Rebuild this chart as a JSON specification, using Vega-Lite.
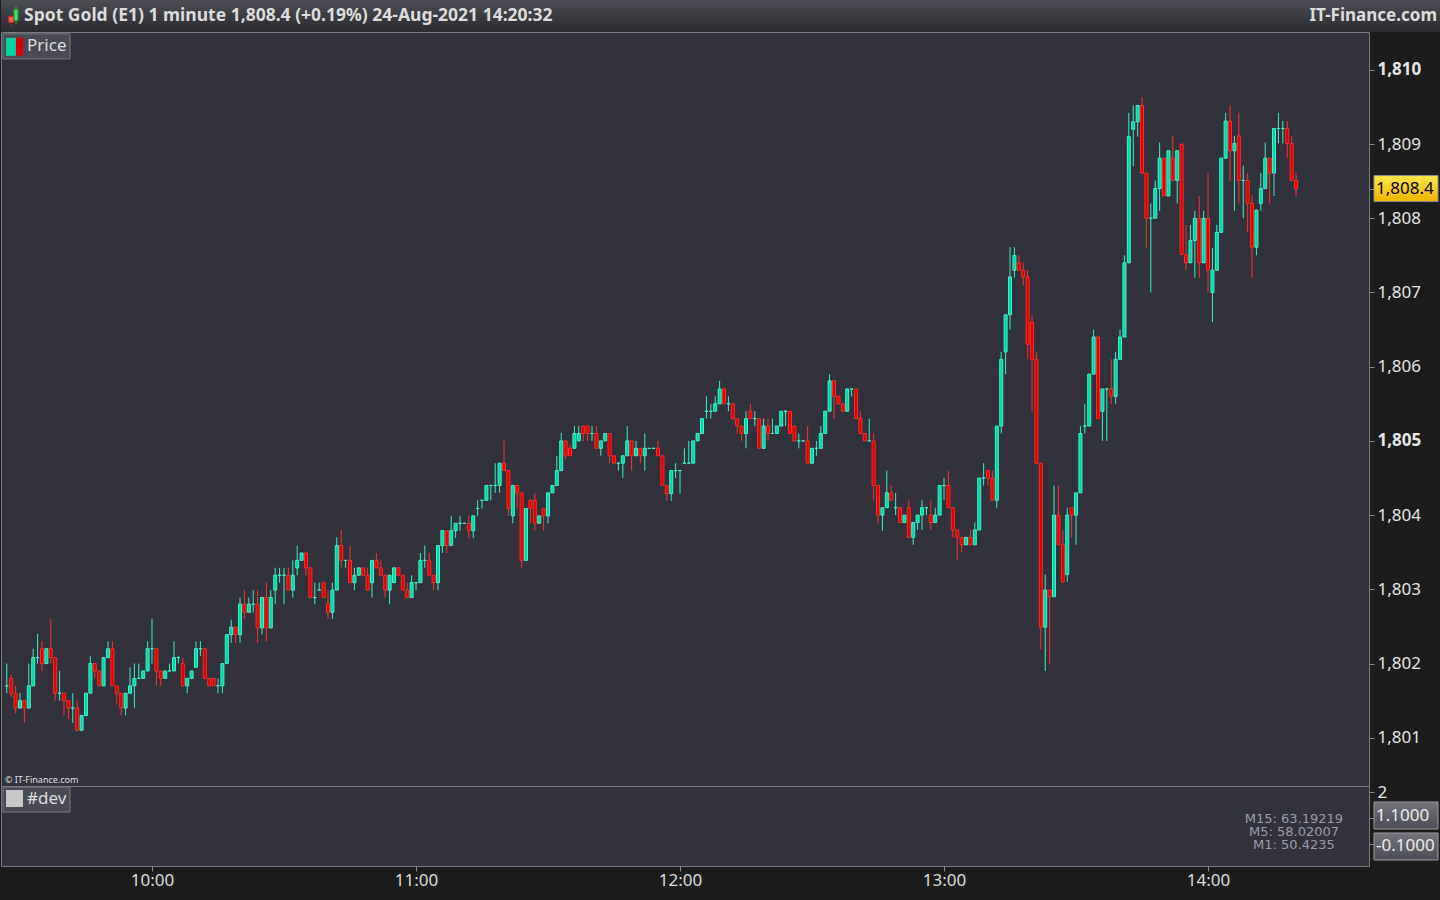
{
"$schema":"https://vega.github.io/schema/vega-lite/v6.json",
"background":"#1c1c1c",
"padding":0,
"spacing":0,
"bounds":"flush",
"config":{"view":{"stroke":null},"concat":{"spacing":0}},
"datasets":{
"candles":[
{"t":"2021-08-24T09:27","o":1801.7,"h":1802.0,"l":1801.6,"c":1801.7},
{"t":"2021-08-24T09:28","o":1801.8,"h":1801.85,"l":1801.55,"c":1801.6},
{"t":"2021-08-24T09:29","o":1801.6,"h":1801.7,"l":1801.33,"c":1801.4},
{"t":"2021-08-24T09:30","o":1801.4,"h":1801.6,"l":1801.4,"c":1801.5},
{"t":"2021-08-24T09:31","o":1801.5,"h":1801.5,"l":1801.2,"c":1801.4},
{"t":"2021-08-24T09:32","o":1801.4,"h":1802.0,"l":1801.4,"c":1801.7},
{"t":"2021-08-24T09:33","o":1801.7,"h":1802.2,"l":1801.7,"c":1802.08},
{"t":"2021-08-24T09:34","o":1802.08,"h":1802.4,"l":1802.0,"c":1802.08},
{"t":"2021-08-24T09:35","o":1802.2,"h":1802.3,"l":1801.9,"c":1802.0},
{"t":"2021-08-24T09:36","o":1802.0,"h":1802.2,"l":1802.0,"c":1802.2},
{"t":"2021-08-24T09:37","o":1802.2,"h":1802.6,"l":1802.0,"c":1802.08},
{"t":"2021-08-24T09:38","o":1802.08,"h":1802.08,"l":1801.5,"c":1801.6},
{"t":"2021-08-24T09:39","o":1801.6,"h":1801.9,"l":1801.5,"c":1801.6},
{"t":"2021-08-24T09:40","o":1801.6,"h":1801.6,"l":1801.3,"c":1801.5},
{"t":"2021-08-24T09:41","o":1801.5,"h":1801.5,"l":1801.25,"c":1801.4},
{"t":"2021-08-24T09:42","o":1801.4,"h":1801.6,"l":1801.2,"c":1801.4},
{"t":"2021-08-24T09:43","o":1801.4,"h":1801.5,"l":1801.1,"c":1801.1},
{"t":"2021-08-24T09:44","o":1801.1,"h":1801.3,"l":1801.1,"c":1801.3},
{"t":"2021-08-24T09:45","o":1801.3,"h":1801.6,"l":1801.3,"c":1801.6},
{"t":"2021-08-24T09:46","o":1801.6,"h":1802.1,"l":1801.6,"c":1802.0},
{"t":"2021-08-24T09:47","o":1802.0,"h":1802.0,"l":1801.8,"c":1801.9},
{"t":"2021-08-24T09:48","o":1801.9,"h":1801.9,"l":1801.7,"c":1801.7},
{"t":"2021-08-24T09:49","o":1801.7,"h":1802.08,"l":1801.7,"c":1802.08},
{"t":"2021-08-24T09:50","o":1802.08,"h":1802.3,"l":1802.08,"c":1802.2},
{"t":"2021-08-24T09:51","o":1802.2,"h":1802.3,"l":1801.7,"c":1801.7},
{"t":"2021-08-24T09:52","o":1801.7,"h":1801.7,"l":1801.45,"c":1801.6},
{"t":"2021-08-24T09:53","o":1801.6,"h":1801.6,"l":1801.3,"c":1801.4},
{"t":"2021-08-24T09:54","o":1801.4,"h":1801.6,"l":1801.3,"c":1801.6},
{"t":"2021-08-24T09:55","o":1801.6,"h":1801.95,"l":1801.6,"c":1801.7},
{"t":"2021-08-24T09:56","o":1801.7,"h":1802.0,"l":1801.4,"c":1801.8},
{"t":"2021-08-24T09:57","o":1801.8,"h":1802.0,"l":1801.8,"c":1801.8},
{"t":"2021-08-24T09:58","o":1801.8,"h":1801.9,"l":1801.8,"c":1801.9},
{"t":"2021-08-24T09:59","o":1801.9,"h":1802.3,"l":1801.9,"c":1802.2},
{"t":"2021-08-24T10:00","o":1802.2,"h":1802.6,"l":1802.0,"c":1802.2},
{"t":"2021-08-24T10:01","o":1802.2,"h":1802.2,"l":1801.7,"c":1801.9},
{"t":"2021-08-24T10:02","o":1801.9,"h":1801.9,"l":1801.7,"c":1801.8},
{"t":"2021-08-24T10:03","o":1801.8,"h":1801.9,"l":1801.8,"c":1801.9},
{"t":"2021-08-24T10:04","o":1801.9,"h":1802.0,"l":1801.9,"c":1801.9},
{"t":"2021-08-24T10:05","o":1801.9,"h":1802.3,"l":1801.9,"c":1802.08},
{"t":"2021-08-24T10:06","o":1802.08,"h":1802.1,"l":1802.0,"c":1802.08},
{"t":"2021-08-24T10:07","o":1802.0,"h":1802.08,"l":1801.7,"c":1801.7},
{"t":"2021-08-24T10:08","o":1801.7,"h":1801.8,"l":1801.6,"c":1801.8},
{"t":"2021-08-24T10:09","o":1801.8,"h":1801.9,"l":1801.8,"c":1801.9},
{"t":"2021-08-24T10:10","o":1801.95,"h":1802.3,"l":1801.95,"c":1802.2},
{"t":"2021-08-24T10:11","o":1802.2,"h":1802.3,"l":1802.1,"c":1802.2},
{"t":"2021-08-24T10:12","o":1802.2,"h":1802.2,"l":1801.8,"c":1801.8},
{"t":"2021-08-24T10:13","o":1801.8,"h":1801.8,"l":1801.7,"c":1801.7},
{"t":"2021-08-24T10:14","o":1801.8,"h":1801.8,"l":1801.7,"c":1801.7},
{"t":"2021-08-24T10:15","o":1801.7,"h":1801.8,"l":1801.6,"c":1801.7},
{"t":"2021-08-24T10:16","o":1801.7,"h":1802.0,"l":1801.6,"c":1802.0},
{"t":"2021-08-24T10:17","o":1802.0,"h":1802.4,"l":1802.0,"c":1802.39},
{"t":"2021-08-24T10:18","o":1802.39,"h":1802.59,"l":1802.28,"c":1802.49},
{"t":"2021-08-24T10:19","o":1802.49,"h":1802.49,"l":1802.28,"c":1802.39},
{"t":"2021-08-24T10:20","o":1802.39,"h":1802.89,"l":1802.28,"c":1802.8},
{"t":"2021-08-24T10:21","o":1802.8,"h":1802.99,"l":1802.6,"c":1802.69},
{"t":"2021-08-24T10:22","o":1802.69,"h":1802.89,"l":1802.69,"c":1802.8},
{"t":"2021-08-24T10:23","o":1802.8,"h":1802.99,"l":1802.69,"c":1802.8},
{"t":"2021-08-24T10:24","o":1802.8,"h":1802.99,"l":1802.28,"c":1802.48},
{"t":"2021-08-24T10:25","o":1802.48,"h":1802.89,"l":1802.39,"c":1802.89},
{"t":"2021-08-24T10:26","o":1802.89,"h":1803.09,"l":1802.3,"c":1802.48},
{"t":"2021-08-24T10:27","o":1802.48,"h":1802.99,"l":1802.48,"c":1802.89},
{"t":"2021-08-24T10:28","o":1802.99,"h":1803.29,"l":1802.8,"c":1803.19},
{"t":"2021-08-24T10:29","o":1803.19,"h":1803.29,"l":1803.09,"c":1803.19},
{"t":"2021-08-24T10:30","o":1803.19,"h":1803.29,"l":1802.8,"c":1803.19},
{"t":"2021-08-24T10:31","o":1803.19,"h":1803.29,"l":1802.99,"c":1802.99},
{"t":"2021-08-24T10:32","o":1802.99,"h":1803.39,"l":1802.89,"c":1803.19},
{"t":"2021-08-24T10:33","o":1803.29,"h":1803.59,"l":1803.19,"c":1803.39},
{"t":"2021-08-24T10:34","o":1803.39,"h":1803.49,"l":1803.39,"c":1803.49},
{"t":"2021-08-24T10:35","o":1803.49,"h":1803.49,"l":1803.19,"c":1803.29},
{"t":"2021-08-24T10:36","o":1803.29,"h":1803.29,"l":1802.89,"c":1802.89},
{"t":"2021-08-24T10:37","o":1802.89,"h":1803.09,"l":1802.8,"c":1802.89},
{"t":"2021-08-24T10:38","o":1802.99,"h":1803.09,"l":1802.99,"c":1802.99},
{"t":"2021-08-24T10:39","o":1803.09,"h":1803.09,"l":1802.89,"c":1802.89},
{"t":"2021-08-24T10:40","o":1802.8,"h":1802.99,"l":1802.6,"c":1802.69},
{"t":"2021-08-24T10:41","o":1802.69,"h":1803.09,"l":1802.6,"c":1802.99},
{"t":"2021-08-24T10:42","o":1802.99,"h":1803.7,"l":1802.99,"c":1803.59},
{"t":"2021-08-24T10:43","o":1803.59,"h":1803.8,"l":1803.29,"c":1803.39},
{"t":"2021-08-24T10:44","o":1803.39,"h":1803.39,"l":1803.29,"c":1803.39},
{"t":"2021-08-24T10:45","o":1803.39,"h":1803.59,"l":1803.09,"c":1803.09},
{"t":"2021-08-24T10:46","o":1803.09,"h":1803.29,"l":1802.99,"c":1803.19},
{"t":"2021-08-24T10:47","o":1803.19,"h":1803.29,"l":1803.19,"c":1803.29},
{"t":"2021-08-24T10:48","o":1803.29,"h":1803.29,"l":1803.19,"c":1803.19},
{"t":"2021-08-24T10:49","o":1803.19,"h":1803.29,"l":1802.99,"c":1802.99},
{"t":"2021-08-24T10:50","o":1803.09,"h":1803.39,"l":1802.89,"c":1803.39},
{"t":"2021-08-24T10:51","o":1803.39,"h":1803.49,"l":1803.29,"c":1803.29},
{"t":"2021-08-24T10:52","o":1803.29,"h":1803.39,"l":1803.19,"c":1803.19},
{"t":"2021-08-24T10:53","o":1803.19,"h":1803.19,"l":1802.89,"c":1802.99},
{"t":"2021-08-24T10:54","o":1802.99,"h":1803.19,"l":1802.8,"c":1803.19},
{"t":"2021-08-24T10:55","o":1803.09,"h":1803.29,"l":1803.09,"c":1803.29},
{"t":"2021-08-24T10:56","o":1803.29,"h":1803.29,"l":1803.19,"c":1803.19},
{"t":"2021-08-24T10:57","o":1803.19,"h":1803.19,"l":1802.99,"c":1802.99},
{"t":"2021-08-24T10:58","o":1802.99,"h":1803.09,"l":1802.89,"c":1802.89},
{"t":"2021-08-24T10:59","o":1802.89,"h":1803.19,"l":1802.89,"c":1803.09},
{"t":"2021-08-24T11:00","o":1803.09,"h":1803.09,"l":1802.99,"c":1803.09},
{"t":"2021-08-24T11:01","o":1803.09,"h":1803.49,"l":1803.09,"c":1803.39},
{"t":"2021-08-24T11:02","o":1803.39,"h":1803.59,"l":1803.29,"c":1803.39},
{"t":"2021-08-24T11:03","o":1803.39,"h":1803.49,"l":1803.19,"c":1803.19},
{"t":"2021-08-24T11:04","o":1803.19,"h":1803.19,"l":1802.99,"c":1803.09},
{"t":"2021-08-24T11:05","o":1803.09,"h":1803.59,"l":1802.99,"c":1803.59},
{"t":"2021-08-24T11:06","o":1803.59,"h":1803.79,"l":1803.49,"c":1803.79},
{"t":"2021-08-24T11:07","o":1803.79,"h":1803.79,"l":1803.49,"c":1803.59},
{"t":"2021-08-24T11:08","o":1803.59,"h":1803.99,"l":1803.59,"c":1803.79},
{"t":"2021-08-24T11:09","o":1803.79,"h":1803.89,"l":1803.69,"c":1803.89},
{"t":"2021-08-24T11:10","o":1803.89,"h":1803.99,"l":1803.79,"c":1803.89},
{"t":"2021-08-24T11:11","o":1803.89,"h":1803.89,"l":1803.89,"c":1803.89},
{"t":"2021-08-24T11:12","o":1803.89,"h":1803.99,"l":1803.69,"c":1803.79},
{"t":"2021-08-24T11:13","o":1803.79,"h":1803.99,"l":1803.69,"c":1803.99},
{"t":"2021-08-24T11:14","o":1804.09,"h":1804.2,"l":1803.99,"c":1804.09},
{"t":"2021-08-24T11:15","o":1804.2,"h":1804.2,"l":1804.09,"c":1804.2},
{"t":"2021-08-24T11:16","o":1804.2,"h":1804.4,"l":1804.2,"c":1804.4},
{"t":"2021-08-24T11:17","o":1804.4,"h":1804.4,"l":1804.2,"c":1804.4},
{"t":"2021-08-24T11:18","o":1804.4,"h":1804.7,"l":1804.3,"c":1804.4},
{"t":"2021-08-24T11:19","o":1804.4,"h":1804.7,"l":1804.3,"c":1804.7},
{"t":"2021-08-24T11:20","o":1804.7,"h":1805.0,"l":1804.6,"c":1804.6},
{"t":"2021-08-24T11:21","o":1804.6,"h":1804.6,"l":1803.99,"c":1804.09},
{"t":"2021-08-24T11:22","o":1803.99,"h":1804.4,"l":1803.89,"c":1804.4},
{"t":"2021-08-24T11:23","o":1804.4,"h":1804.4,"l":1804.09,"c":1804.3},
{"t":"2021-08-24T11:24","o":1804.3,"h":1804.3,"l":1803.29,"c":1803.39},
{"t":"2021-08-24T11:25","o":1803.39,"h":1804.09,"l":1803.39,"c":1804.09},
{"t":"2021-08-24T11:26","o":1804.2,"h":1804.2,"l":1803.89,"c":1804.09},
{"t":"2021-08-24T11:27","o":1804.2,"h":1804.3,"l":1803.79,"c":1803.89},
{"t":"2021-08-24T11:28","o":1803.89,"h":1803.99,"l":1803.89,"c":1803.99},
{"t":"2021-08-24T11:29","o":1804.09,"h":1804.09,"l":1803.79,"c":1803.99},
{"t":"2021-08-24T11:30","o":1803.99,"h":1804.3,"l":1803.89,"c":1804.3},
{"t":"2021-08-24T11:31","o":1804.3,"h":1804.4,"l":1804.3,"c":1804.4},
{"t":"2021-08-24T11:32","o":1804.4,"h":1804.8,"l":1804.4,"c":1804.6},
{"t":"2021-08-24T11:33","o":1804.6,"h":1805.11,"l":1804.6,"c":1805.0},
{"t":"2021-08-24T11:34","o":1805.0,"h":1805.0,"l":1804.75,"c":1804.8},
{"t":"2021-08-24T11:35","o":1804.9,"h":1804.95,"l":1804.8,"c":1804.8},
{"t":"2021-08-24T11:36","o":1804.9,"h":1805.2,"l":1804.9,"c":1805.1},
{"t":"2021-08-24T11:37","o":1805.0,"h":1805.2,"l":1805.0,"c":1805.1},
{"t":"2021-08-24T11:38","o":1805.2,"h":1805.2,"l":1805.0,"c":1805.1},
{"t":"2021-08-24T11:39","o":1805.2,"h":1805.2,"l":1805.0,"c":1805.1},
{"t":"2021-08-24T11:40","o":1805.1,"h":1805.2,"l":1805.0,"c":1805.1},
{"t":"2021-08-24T11:41","o":1805.1,"h":1805.2,"l":1804.9,"c":1804.9},
{"t":"2021-08-24T11:42","o":1804.9,"h":1805.0,"l":1804.8,"c":1805.0},
{"t":"2021-08-24T11:43","o":1805.0,"h":1805.1,"l":1805.0,"c":1805.1},
{"t":"2021-08-24T11:44","o":1805.1,"h":1805.1,"l":1804.7,"c":1804.8},
{"t":"2021-08-24T11:45","o":1804.8,"h":1804.8,"l":1804.7,"c":1804.7},
{"t":"2021-08-24T11:46","o":1804.7,"h":1804.7,"l":1804.6,"c":1804.7},
{"t":"2021-08-24T11:47","o":1804.7,"h":1804.8,"l":1804.5,"c":1804.8},
{"t":"2021-08-24T11:48","o":1804.8,"h":1805.2,"l":1804.8,"c":1805.0},
{"t":"2021-08-24T11:49","o":1805.0,"h":1805.0,"l":1804.6,"c":1804.8},
{"t":"2021-08-24T11:50","o":1804.8,"h":1805.0,"l":1804.8,"c":1804.9},
{"t":"2021-08-24T11:51","o":1804.9,"h":1804.9,"l":1804.7,"c":1804.8},
{"t":"2021-08-24T11:52","o":1804.8,"h":1805.1,"l":1804.6,"c":1804.9},
{"t":"2021-08-24T11:53","o":1804.9,"h":1804.9,"l":1804.9,"c":1804.9},
{"t":"2021-08-24T11:54","o":1804.9,"h":1804.9,"l":1804.9,"c":1804.9},
{"t":"2021-08-24T11:55","o":1804.9,"h":1805.0,"l":1804.8,"c":1804.8},
{"t":"2021-08-24T11:56","o":1804.8,"h":1804.8,"l":1804.4,"c":1804.4},
{"t":"2021-08-24T11:57","o":1804.4,"h":1804.4,"l":1804.19,"c":1804.29},
{"t":"2021-08-24T11:58","o":1804.29,"h":1804.6,"l":1804.19,"c":1804.6},
{"t":"2021-08-24T11:59","o":1804.6,"h":1804.7,"l":1804.5,"c":1804.6},
{"t":"2021-08-24T12:00","o":1804.6,"h":1804.6,"l":1804.29,"c":1804.6},
{"t":"2021-08-24T12:01","o":1804.7,"h":1804.9,"l":1804.7,"c":1804.7},
{"t":"2021-08-24T12:02","o":1804.7,"h":1805.0,"l":1804.7,"c":1804.7},
{"t":"2021-08-24T12:03","o":1804.7,"h":1805.0,"l":1804.7,"c":1805.0},
{"t":"2021-08-24T12:04","o":1805.0,"h":1805.1,"l":1805.0,"c":1805.1},
{"t":"2021-08-24T12:05","o":1805.1,"h":1805.3,"l":1805.1,"c":1805.3},
{"t":"2021-08-24T12:06","o":1805.4,"h":1805.6,"l":1805.3,"c":1805.4},
{"t":"2021-08-24T12:07","o":1805.4,"h":1805.5,"l":1805.3,"c":1805.4},
{"t":"2021-08-24T12:08","o":1805.4,"h":1805.6,"l":1805.4,"c":1805.5},
{"t":"2021-08-24T12:09","o":1805.5,"h":1805.81,"l":1805.5,"c":1805.7},
{"t":"2021-08-24T12:10","o":1805.7,"h":1805.7,"l":1805.5,"c":1805.5},
{"t":"2021-08-24T12:11","o":1805.5,"h":1805.6,"l":1805.4,"c":1805.5},
{"t":"2021-08-24T12:12","o":1805.5,"h":1805.5,"l":1805.3,"c":1805.3},
{"t":"2021-08-24T12:13","o":1805.3,"h":1805.3,"l":1805.1,"c":1805.2},
{"t":"2021-08-24T12:14","o":1805.2,"h":1805.2,"l":1805.0,"c":1805.1},
{"t":"2021-08-24T12:15","o":1805.1,"h":1805.4,"l":1804.9,"c":1805.3},
{"t":"2021-08-24T12:16","o":1805.4,"h":1805.5,"l":1805.3,"c":1805.3},
{"t":"2021-08-24T12:17","o":1805.3,"h":1805.4,"l":1805.2,"c":1805.3},
{"t":"2021-08-24T12:18","o":1805.3,"h":1805.3,"l":1804.9,"c":1804.9},
{"t":"2021-08-24T12:19","o":1804.9,"h":1805.3,"l":1804.9,"c":1805.2},
{"t":"2021-08-24T12:20","o":1805.2,"h":1805.3,"l":1805.0,"c":1805.1},
{"t":"2021-08-24T12:21","o":1805.1,"h":1805.3,"l":1805.1,"c":1805.1},
{"t":"2021-08-24T12:22","o":1805.1,"h":1805.2,"l":1805.1,"c":1805.2},
{"t":"2021-08-24T12:23","o":1805.2,"h":1805.4,"l":1805.2,"c":1805.4},
{"t":"2021-08-24T12:24","o":1805.4,"h":1805.4,"l":1805.2,"c":1805.4},
{"t":"2021-08-24T12:25","o":1805.4,"h":1805.4,"l":1805.1,"c":1805.1},
{"t":"2021-08-24T12:26","o":1805.2,"h":1805.2,"l":1805.0,"c":1805.0},
{"t":"2021-08-24T12:27","o":1805.0,"h":1805.1,"l":1804.9,"c":1805.0},
{"t":"2021-08-24T12:28","o":1805.0,"h":1805.0,"l":1805.0,"c":1805.0},
{"t":"2021-08-24T12:29","o":1805.0,"h":1805.2,"l":1804.7,"c":1804.7},
{"t":"2021-08-24T12:30","o":1804.7,"h":1804.9,"l":1804.7,"c":1804.9},
{"t":"2021-08-24T12:31","o":1804.9,"h":1805.0,"l":1804.8,"c":1804.9},
{"t":"2021-08-24T12:32","o":1804.9,"h":1805.2,"l":1804.9,"c":1805.1},
{"t":"2021-08-24T12:33","o":1805.1,"h":1805.4,"l":1805.1,"c":1805.4},
{"t":"2021-08-24T12:34","o":1805.4,"h":1805.9,"l":1805.4,"c":1805.81},
{"t":"2021-08-24T12:35","o":1805.81,"h":1805.81,"l":1805.3,"c":1805.6},
{"t":"2021-08-24T12:36","o":1805.6,"h":1805.6,"l":1805.5,"c":1805.5},
{"t":"2021-08-24T12:37","o":1805.5,"h":1805.5,"l":1805.4,"c":1805.4},
{"t":"2021-08-24T12:38","o":1805.4,"h":1805.7,"l":1805.4,"c":1805.7},
{"t":"2021-08-24T12:39","o":1805.7,"h":1805.7,"l":1805.6,"c":1805.7},
{"t":"2021-08-24T12:40","o":1805.7,"h":1805.7,"l":1805.3,"c":1805.3},
{"t":"2021-08-24T12:41","o":1805.3,"h":1805.4,"l":1805.1,"c":1805.1},
{"t":"2021-08-24T12:42","o":1805.1,"h":1805.1,"l":1805.0,"c":1805.0},
{"t":"2021-08-24T12:43","o":1805.0,"h":1805.3,"l":1805.0,"c":1805.0},
{"t":"2021-08-24T12:44","o":1805.0,"h":1805.1,"l":1804.2,"c":1804.4},
{"t":"2021-08-24T12:45","o":1804.4,"h":1804.4,"l":1803.89,"c":1804.0},
{"t":"2021-08-24T12:46","o":1804.0,"h":1804.1,"l":1803.79,"c":1804.1},
{"t":"2021-08-24T12:47","o":1804.1,"h":1804.6,"l":1804.1,"c":1804.3},
{"t":"2021-08-24T12:48","o":1804.3,"h":1804.4,"l":1804.2,"c":1804.2},
{"t":"2021-08-24T12:49","o":1804.1,"h":1804.3,"l":1804.0,"c":1804.1},
{"t":"2021-08-24T12:50","o":1804.1,"h":1804.1,"l":1803.9,"c":1803.9},
{"t":"2021-08-24T12:51","o":1803.9,"h":1804.0,"l":1803.9,"c":1804.0},
{"t":"2021-08-24T12:52","o":1804.1,"h":1804.2,"l":1803.7,"c":1803.7},
{"t":"2021-08-24T12:53","o":1803.7,"h":1803.9,"l":1803.6,"c":1803.9},
{"t":"2021-08-24T12:54","o":1803.9,"h":1804.0,"l":1803.8,"c":1804.0},
{"t":"2021-08-24T12:55","o":1804.0,"h":1804.2,"l":1803.8,"c":1804.1},
{"t":"2021-08-24T12:56","o":1804.1,"h":1804.1,"l":1804.0,"c":1804.1},
{"t":"2021-08-24T12:57","o":1804.0,"h":1804.2,"l":1803.8,"c":1803.9},
{"t":"2021-08-24T12:58","o":1803.9,"h":1804.1,"l":1803.9,"c":1804.0},
{"t":"2021-08-24T12:59","o":1804.0,"h":1804.4,"l":1804.0,"c":1804.4},
{"t":"2021-08-24T13:00","o":1804.4,"h":1804.5,"l":1804.2,"c":1804.4},
{"t":"2021-08-24T13:01","o":1804.4,"h":1804.6,"l":1804.1,"c":1804.1},
{"t":"2021-08-24T13:02","o":1804.1,"h":1804.1,"l":1803.7,"c":1803.8},
{"t":"2021-08-24T13:03","o":1803.8,"h":1803.8,"l":1803.39,"c":1803.7},
{"t":"2021-08-24T13:04","o":1803.7,"h":1803.7,"l":1803.5,"c":1803.6},
{"t":"2021-08-24T13:05","o":1803.6,"h":1803.7,"l":1803.6,"c":1803.7},
{"t":"2021-08-24T13:06","o":1803.7,"h":1803.8,"l":1803.6,"c":1803.6},
{"t":"2021-08-24T13:07","o":1803.6,"h":1803.9,"l":1803.6,"c":1803.8},
{"t":"2021-08-24T13:08","o":1803.8,"h":1804.5,"l":1803.8,"c":1804.5},
{"t":"2021-08-24T13:09","o":1804.5,"h":1804.7,"l":1804.4,"c":1804.5},
{"t":"2021-08-24T13:10","o":1804.6,"h":1804.6,"l":1804.4,"c":1804.5},
{"t":"2021-08-24T13:11","o":1804.5,"h":1804.6,"l":1804.2,"c":1804.2},
{"t":"2021-08-24T13:12","o":1804.2,"h":1805.2,"l":1804.1,"c":1805.2},
{"t":"2021-08-24T13:13","o":1805.2,"h":1806.2,"l":1805.1,"c":1806.1},
{"t":"2021-08-24T13:14","o":1806.2,"h":1806.7,"l":1805.9,"c":1806.7},
{"t":"2021-08-24T13:15","o":1806.7,"h":1807.61,"l":1806.5,"c":1807.21},
{"t":"2021-08-24T13:16","o":1807.3,"h":1807.61,"l":1807.2,"c":1807.5},
{"t":"2021-08-24T13:17","o":1807.4,"h":1807.5,"l":1807.3,"c":1807.3},
{"t":"2021-08-24T13:18","o":1807.3,"h":1807.4,"l":1807.1,"c":1807.21},
{"t":"2021-08-24T13:19","o":1807.21,"h":1807.3,"l":1806.1,"c":1806.3},
{"t":"2021-08-24T13:20","o":1806.6,"h":1806.7,"l":1805.4,"c":1806.1},
{"t":"2021-08-24T13:21","o":1806.1,"h":1806.2,"l":1804.7,"c":1804.7},
{"t":"2021-08-24T13:22","o":1804.7,"h":1804.7,"l":1802.19,"c":1802.49},
{"t":"2021-08-24T13:23","o":1802.49,"h":1803.2,"l":1801.9,"c":1802.99},
{"t":"2021-08-24T13:24","o":1802.99,"h":1802.99,"l":1801.99,"c":1802.9},
{"t":"2021-08-24T13:25","o":1802.9,"h":1804.4,"l":1802.9,"c":1804.0},
{"t":"2021-08-24T13:26","o":1804.0,"h":1804.4,"l":1803.6,"c":1803.6},
{"t":"2021-08-24T13:27","o":1803.6,"h":1803.8,"l":1803.1,"c":1803.1},
{"t":"2021-08-24T13:28","o":1803.2,"h":1804.1,"l":1803.1,"c":1804.0},
{"t":"2021-08-24T13:29","o":1804.1,"h":1804.1,"l":1803.7,"c":1804.0},
{"t":"2021-08-24T13:30","o":1804.0,"h":1804.3,"l":1803.6,"c":1804.3},
{"t":"2021-08-24T13:31","o":1804.3,"h":1805.2,"l":1804.3,"c":1805.1},
{"t":"2021-08-24T13:32","o":1805.2,"h":1805.5,"l":1805.1,"c":1805.2},
{"t":"2021-08-24T13:33","o":1805.2,"h":1805.9,"l":1805.2,"c":1805.9},
{"t":"2021-08-24T13:34","o":1805.9,"h":1806.5,"l":1805.9,"c":1806.4},
{"t":"2021-08-24T13:35","o":1806.4,"h":1806.4,"l":1805.3,"c":1805.3},
{"t":"2021-08-24T13:36","o":1805.4,"h":1805.7,"l":1805.0,"c":1805.7},
{"t":"2021-08-24T13:37","o":1805.7,"h":1805.7,"l":1805.0,"c":1805.7},
{"t":"2021-08-24T13:38","o":1805.7,"h":1806.1,"l":1805.5,"c":1805.6},
{"t":"2021-08-24T13:39","o":1805.6,"h":1806.2,"l":1805.5,"c":1806.1},
{"t":"2021-08-24T13:40","o":1806.1,"h":1806.5,"l":1806.1,"c":1806.4},
{"t":"2021-08-24T13:41","o":1806.4,"h":1807.5,"l":1806.4,"c":1807.4},
{"t":"2021-08-24T13:42","o":1807.4,"h":1809.42,"l":1807.4,"c":1809.1},
{"t":"2021-08-24T13:43","o":1809.2,"h":1809.52,"l":1808.7,"c":1809.3},
{"t":"2021-08-24T13:44","o":1809.3,"h":1809.52,"l":1809.1,"c":1809.52},
{"t":"2021-08-24T13:45","o":1809.52,"h":1809.63,"l":1808.61,"c":1808.61},
{"t":"2021-08-24T13:46","o":1808.61,"h":1808.61,"l":1807.6,"c":1808.0},
{"t":"2021-08-24T13:47","o":1808.0,"h":1808.2,"l":1807.0,"c":1808.0},
{"t":"2021-08-24T13:48","o":1808.0,"h":1808.51,"l":1808.0,"c":1808.4},
{"t":"2021-08-24T13:49","o":1808.4,"h":1809.02,"l":1808.1,"c":1808.81},
{"t":"2021-08-24T13:50","o":1808.81,"h":1808.81,"l":1808.3,"c":1808.3},
{"t":"2021-08-24T13:51","o":1808.3,"h":1808.91,"l":1808.3,"c":1808.91},
{"t":"2021-08-24T13:52","o":1808.81,"h":1809.11,"l":1808.51,"c":1808.51},
{"t":"2021-08-24T13:53","o":1808.51,"h":1808.91,"l":1808.2,"c":1808.91},
{"t":"2021-08-24T13:54","o":1809.0,"h":1809.0,"l":1807.51,"c":1807.51},
{"t":"2021-08-24T13:55","o":1807.51,"h":1807.91,"l":1807.3,"c":1807.4},
{"t":"2021-08-24T13:56","o":1807.4,"h":1807.91,"l":1807.4,"c":1807.7},
{"t":"2021-08-24T13:57","o":1807.7,"h":1808.1,"l":1807.2,"c":1808.0},
{"t":"2021-08-24T13:58","o":1808.0,"h":1808.3,"l":1807.2,"c":1807.4},
{"t":"2021-08-24T13:59","o":1807.4,"h":1808.1,"l":1807.4,"c":1808.0},
{"t":"2021-08-24T14:00","o":1808.0,"h":1808.61,"l":1807.0,"c":1807.3},
{"t":"2021-08-24T14:01","o":1807.0,"h":1807.6,"l":1806.6,"c":1807.3},
{"t":"2021-08-24T14:02","o":1807.3,"h":1807.91,"l":1807.3,"c":1807.81},
{"t":"2021-08-24T14:03","o":1807.81,"h":1808.81,"l":1807.81,"c":1808.81},
{"t":"2021-08-24T14:04","o":1808.81,"h":1809.42,"l":1808.81,"c":1809.31},
{"t":"2021-08-24T14:05","o":1809.31,"h":1809.52,"l":1808.5,"c":1808.91},
{"t":"2021-08-24T14:06","o":1808.91,"h":1809.11,"l":1808.1,"c":1809.01},
{"t":"2021-08-24T14:07","o":1809.11,"h":1809.42,"l":1808.2,"c":1808.51},
{"t":"2021-08-24T14:08","o":1808.51,"h":1808.71,"l":1808.0,"c":1808.51},
{"t":"2021-08-24T14:09","o":1808.51,"h":1808.61,"l":1807.81,"c":1808.2},
{"t":"2021-08-24T14:10","o":1808.2,"h":1808.31,"l":1807.2,"c":1807.61},
{"t":"2021-08-24T14:11","o":1807.61,"h":1808.11,"l":1807.5,"c":1808.11},
{"t":"2021-08-24T14:12","o":1808.2,"h":1808.61,"l":1808.1,"c":1808.4},
{"t":"2021-08-24T14:13","o":1808.4,"h":1809.02,"l":1808.4,"c":1808.81},
{"t":"2021-08-24T14:14","o":1808.81,"h":1808.81,"l":1808.2,"c":1808.61},
{"t":"2021-08-24T14:15","o":1808.61,"h":1809.21,"l":1808.3,"c":1809.21},
{"t":"2021-08-24T14:16","o":1809.21,"h":1809.42,"l":1809.01,"c":1809.21},
{"t":"2021-08-24T14:17","o":1809.21,"h":1809.31,"l":1809.01,"c":1809.21},
{"t":"2021-08-24T14:18","o":1809.21,"h":1809.31,"l":1808.81,"c":1809.01},
{"t":"2021-08-24T14:19","o":1809.01,"h":1809.11,"l":1808.51,"c":1808.51},
{"t":"2021-08-24T14:20","o":1808.51,"h":1808.61,"l":1808.3,"c":1808.4}
],
"priceTag":[{"v":1808.4,"label":"1,808.4"}],
"devTags":[{"v":1.1,"label":"1.1000"},{"v":-0.1,"label":"-0.1000"}]
},
"vconcat":[
{
"width":1440,"height":32,
"view":{"stroke":null},
"layer":[
{"data":{"values":[{}]},
"mark":{"type":"rect","fill":{"gradient":"linear","x1":0,"y1":0,"x2":0,"y2":1,"stops":[{"offset":0,"color":"#4d4d55"},{"offset":1,"color":"#2a2a2f"}]}},
"encoding":{"x":{"datum":0,"type":"quantitative","scale":{"domain":[0,1]},"axis":null},"x2":{"datum":1},"y":{"datum":0,"type":"quantitative","scale":{"domain":[0,1]},"axis":null},"y2":{"datum":1}}},
{"data":{"values":[{}]},
"mark":{"type":"rule","color":"#dd2020","strokeWidth":1},
"encoding":{"x":{"datum":0.0069,"type":"quantitative","scale":{"domain":[0,1]},"axis":null},"y":{"datum":0.55,"type":"quantitative","scale":{"domain":[0,1]},"axis":null},"y2":{"datum":0.2}}},
{"data":{"values":[{}]},
"mark":{"type":"rect","fill":"#f06060","stroke":"#dd2020","strokeWidth":1},
"encoding":{"x":{"datum":0.0052,"type":"quantitative","scale":{"domain":[0,1]},"axis":null},"x2":{"datum":0.0087},"y":{"datum":0.48,"type":"quantitative","scale":{"domain":[0,1]},"axis":null},"y2":{"datum":0.3}}},
{"data":{"values":[{}]},
"mark":{"type":"rule","color":"#20c040","strokeWidth":1},
"encoding":{"x":{"datum":0.0104,"type":"quantitative","scale":{"domain":[0,1]},"axis":null},"y":{"datum":0.8,"type":"quantitative","scale":{"domain":[0,1]},"axis":null},"y2":{"datum":0.25}}},
{"data":{"values":[{}]},
"mark":{"type":"rect","fill":"#40e060","stroke":"#20a040","strokeWidth":1},
"encoding":{"x":{"datum":0.009,"type":"quantitative","scale":{"domain":[0,1]},"axis":null},"x2":{"datum":0.0118},"y":{"datum":0.7,"type":"quantitative","scale":{"domain":[0,1]},"axis":null},"y2":{"datum":0.36}}},
{"data":{"values":[{"label":"Spot Gold (E1) 1 minute 1,808.4 (+0.19%) 24-Aug-2021 14:20:32"}]},
"mark":{"type":"text","align":"left","baseline":"middle","dx":23,"fontSize":17.5,"fontWeight":"bold","font":"Noto Sans","color":"#dcdcdc"},
"encoding":{"x":{"datum":0,"type":"quantitative","scale":{"domain":[0,1]},"axis":null},"y":{"datum":0.5,"type":"quantitative","scale":{"domain":[0,1]},"axis":null},"text":{"field":"label"}}},
{"data":{"values":[{"label":"IT-Finance.com"}]},
"mark":{"type":"text","align":"right","baseline":"middle","dx":-4,"fontSize":17,"fontWeight":"bold","font":"Noto Sans","color":"#dcdcdc"},
"encoding":{"x":{"datum":1,"type":"quantitative","scale":{"domain":[0,1]},"axis":null},"y":{"datum":0.5,"type":"quantitative","scale":{"domain":[0,1]},"axis":null},"text":{"field":"label"}}}
]
},
{
"width":1368,"height":754,
"view":{"fill":"#32323d","stroke":"#7a7a82","strokeWidth":1},
"layer":[
{"data":{"name":"candles"},
"mark":{"type":"rule","strokeWidth":1},
"encoding":{
"x":{"field":"t","type":"temporal","scale":{"domain":[{"year":2021,"month":8,"date":24,"hours":9,"minutes":25,"seconds":41},{"year":2021,"month":8,"date":24,"hours":14,"minutes":36,"seconds":35}],"padding":0},"axis":null},
"y":{"field":"l","type":"quantitative","scale":{"domain":[1800.35,1810.51],"nice":false,"zero":false,"padding":0},"axis":{"orient":"right","values":[1801,1802,1803,1804,1805,1806,1807,1808,1809,1810,1808.4],"format":",.0f","labelExpr":"datum.value % 1 === 0 ? datum.label : ''","labelFontWeight":{"condition":{"test":"datum.value % 5 === 0","value":"bold"},"value":"normal"},"title":null,"domain":false,"grid":false,"tickSize":5,"tickColor":"#8a8a92","labelPadding":3,"labelFontSize":17,"labelFont":"Noto Sans","labelColor":"#e6e6e6","labelOverlap":false,"labelBound":false,"labelFlush":false}},
"y2":{"field":"h"},
"color":{"condition":{"test":"datum.c >= datum.o","value":"#3cf0c8"},"value":"#ff3030"}
}},
{"data":{"name":"candles"},
"mark":{"type":"bar","size":3,"strokeWidth":1},
"encoding":{
"x":{"field":"t","type":"temporal","scale":{"domain":[{"year":2021,"month":8,"date":24,"hours":9,"minutes":25,"seconds":41},{"year":2021,"month":8,"date":24,"hours":14,"minutes":36,"seconds":35}],"padding":0},"axis":null},
"y":{"field":"o","type":"quantitative","scale":{"domain":[1800.35,1810.51],"nice":false,"zero":false,"padding":0},"axis":{"orient":"right","values":[1801,1802,1803,1804,1805,1806,1807,1808,1809,1810,1808.4],"format":",.0f","labelExpr":"datum.value % 1 === 0 ? datum.label : ''","labelFontWeight":{"condition":{"test":"datum.value % 5 === 0","value":"bold"},"value":"normal"},"title":null,"domain":false,"grid":false,"tickSize":5,"tickColor":"#8a8a92","labelPadding":3,"labelFontSize":17,"labelFont":"Noto Sans","labelColor":"#e6e6e6","labelOverlap":false,"labelBound":false,"labelFlush":false}},
"y2":{"field":"c"},
"fill":{"condition":{"test":"datum.c >= datum.o","value":"#00d8a4"},"value":"#dd0000"},
"stroke":{"condition":{"test":"datum.c >= datum.o","value":"#3cf5cc"},"value":"#ff2a2a"}
}},
{"data":{"name":"priceTag"},
"mark":{"type":"bar","size":26,"stroke":"#8c8c8c","strokeWidth":1,"fill":{"gradient":"linear","x1":0,"y1":0,"x2":0,"y2":1,"stops":[{"offset":0,"color":"#ffe84a"},{"offset":1,"color":"#f0b400"}]}},
"encoding":{
"x":{"datum":{"year":2021,"month":8,"date":24,"hours":14,"minutes":37,"seconds":43},"type":"temporal","scale":{"domain":[{"year":2021,"month":8,"date":24,"hours":9,"minutes":25,"seconds":41},{"year":2021,"month":8,"date":24,"hours":14,"minutes":36,"seconds":35}],"padding":0},"axis":null},
"x2":{"datum":{"year":2021,"month":8,"date":24,"hours":14,"minutes":52,"seconds":16}},
"y":{"field":"v","type":"quantitative","scale":{"domain":[1800.35,1810.51],"nice":false,"zero":false,"padding":0},"axis":{"orient":"right","values":[1801,1802,1803,1804,1805,1806,1807,1808,1809,1810,1808.4],"format":",.0f","labelExpr":"datum.value % 1 === 0 ? datum.label : ''","labelFontWeight":{"condition":{"test":"datum.value % 5 === 0","value":"bold"},"value":"normal"},"title":null,"domain":false,"grid":false,"tickSize":5,"tickColor":"#8a8a92","labelPadding":3,"labelFontSize":17,"labelFont":"Noto Sans","labelColor":"#e6e6e6","labelOverlap":false,"labelBound":false,"labelFlush":false}}
}},
{"data":{"name":"priceTag"},
"mark":{"type":"text","align":"left","baseline":"middle","dx":2,"fontSize":17,"font":"Noto Sans","color":"#000000"},
"encoding":{
"x":{"datum":{"year":2021,"month":8,"date":24,"hours":14,"minutes":37,"seconds":43},"type":"temporal","scale":{"domain":[{"year":2021,"month":8,"date":24,"hours":9,"minutes":25,"seconds":41},{"year":2021,"month":8,"date":24,"hours":14,"minutes":36,"seconds":35}],"padding":0},"axis":null},
"y":{"field":"v","type":"quantitative","scale":{"domain":[1800.35,1810.51],"nice":false,"zero":false,"padding":0},"axis":{"orient":"right","values":[1801,1802,1803,1804,1805,1806,1807,1808,1809,1810,1808.4],"format":",.0f","labelExpr":"datum.value % 1 === 0 ? datum.label : ''","labelFontWeight":{"condition":{"test":"datum.value % 5 === 0","value":"bold"},"value":"normal"},"title":null,"domain":false,"grid":false,"tickSize":5,"tickColor":"#8a8a92","labelPadding":3,"labelFontSize":17,"labelFont":"Noto Sans","labelColor":"#e6e6e6","labelOverlap":false,"labelBound":false,"labelFlush":false}},
"text":{"field":"label"}
}},
{"data":{"values":[{"name":"Price"}]},
"mark":{"type":"rect","fill":"#4a4a55","stroke":"#7a7a82","strokeWidth":1},
"encoding":{
"x":{"datum":{"year":2021,"month":8,"date":24,"hours":9,"minutes":26,"seconds":8},"type":"temporal","scale":{"domain":[{"year":2021,"month":8,"date":24,"hours":9,"minutes":25,"seconds":41},{"year":2021,"month":8,"date":24,"hours":14,"minutes":36,"seconds":35}],"padding":0},"axis":null},
"x2":{"datum":{"year":2021,"month":8,"date":24,"hours":9,"minutes":41,"seconds":22}},
"y":{"datum":1810.485,"type":"quantitative","scale":{"domain":[1800.35,1810.51],"nice":false,"zero":false,"padding":0},"axis":{"orient":"right","values":[1801,1802,1803,1804,1805,1806,1807,1808,1809,1810,1808.4],"format":",.0f","labelExpr":"datum.value % 1 === 0 ? datum.label : ''","labelFontWeight":{"condition":{"test":"datum.value % 5 === 0","value":"bold"},"value":"normal"},"title":null,"domain":false,"grid":false,"tickSize":5,"tickColor":"#8a8a92","labelPadding":3,"labelFontSize":17,"labelFont":"Noto Sans","labelColor":"#e6e6e6","labelOverlap":false,"labelBound":false,"labelFlush":false}},
"y2":{"datum":1810.148}
}},
{"data":{"values":[{"name":"Price"}]},
"mark":{"type":"rect","fill":"#00d8a4"},
"encoding":{
"x":{"datum":{"year":2021,"month":8,"date":24,"hours":9,"minutes":26,"seconds":49},"type":"temporal","scale":{"domain":[{"year":2021,"month":8,"date":24,"hours":9,"minutes":25,"seconds":41},{"year":2021,"month":8,"date":24,"hours":14,"minutes":36,"seconds":35}],"padding":0},"axis":null},
"x2":{"datum":{"year":2021,"month":8,"date":24,"hours":9,"minutes":29,"seconds":5}},
"y":{"datum":1810.431,"type":"quantitative","scale":{"domain":[1800.35,1810.51],"nice":false,"zero":false,"padding":0},"axis":{"orient":"right","values":[1801,1802,1803,1804,1805,1806,1807,1808,1809,1810,1808.4],"format":",.0f","labelExpr":"datum.value % 1 === 0 ? datum.label : ''","labelFontWeight":{"condition":{"test":"datum.value % 5 === 0","value":"bold"},"value":"normal"},"title":null,"domain":false,"grid":false,"tickSize":5,"tickColor":"#8a8a92","labelPadding":3,"labelFontSize":17,"labelFont":"Noto Sans","labelColor":"#e6e6e6","labelOverlap":false,"labelBound":false,"labelFlush":false}},
"y2":{"datum":1810.189}
}},
{"data":{"values":[{"name":"Price"}]},
"mark":{"type":"rect","fill":"#dd0000"},
"encoding":{
"x":{"datum":{"year":2021,"month":8,"date":24,"hours":9,"minutes":29,"seconds":5},"type":"temporal","scale":{"domain":[{"year":2021,"month":8,"date":24,"hours":9,"minutes":25,"seconds":41},{"year":2021,"month":8,"date":24,"hours":14,"minutes":36,"seconds":35}],"padding":0},"axis":null},
"x2":{"datum":{"year":2021,"month":8,"date":24,"hours":9,"minutes":30,"seconds":41}},
"y":{"datum":1810.431,"type":"quantitative","scale":{"domain":[1800.35,1810.51],"nice":false,"zero":false,"padding":0},"axis":{"orient":"right","values":[1801,1802,1803,1804,1805,1806,1807,1808,1809,1810,1808.4],"format":",.0f","labelExpr":"datum.value % 1 === 0 ? datum.label : ''","labelFontWeight":{"condition":{"test":"datum.value % 5 === 0","value":"bold"},"value":"normal"},"title":null,"domain":false,"grid":false,"tickSize":5,"tickColor":"#8a8a92","labelPadding":3,"labelFontSize":17,"labelFont":"Noto Sans","labelColor":"#e6e6e6","labelOverlap":false,"labelBound":false,"labelFlush":false}},
"y2":{"datum":1810.189}
}},
{"data":{"values":[{"name":"Price"}]},
"mark":{"type":"text","align":"left","baseline":"middle","fontSize":17,"font":"Noto Sans","color":"#dedede"},
"encoding":{
"x":{"datum":{"year":2021,"month":8,"date":24,"hours":9,"minutes":31,"seconds":36},"type":"temporal","scale":{"domain":[{"year":2021,"month":8,"date":24,"hours":9,"minutes":25,"seconds":41},{"year":2021,"month":8,"date":24,"hours":14,"minutes":36,"seconds":35}],"padding":0},"axis":null},
"y":{"datum":1810.317,"type":"quantitative","scale":{"domain":[1800.35,1810.51],"nice":false,"zero":false,"padding":0},"axis":{"orient":"right","values":[1801,1802,1803,1804,1805,1806,1807,1808,1809,1810,1808.4],"format":",.0f","labelExpr":"datum.value % 1 === 0 ? datum.label : ''","labelFontWeight":{"condition":{"test":"datum.value % 5 === 0","value":"bold"},"value":"normal"},"title":null,"domain":false,"grid":false,"tickSize":5,"tickColor":"#8a8a92","labelPadding":3,"labelFontSize":17,"labelFont":"Noto Sans","labelColor":"#e6e6e6","labelOverlap":false,"labelBound":false,"labelFlush":false}},
"text":{"field":"name"}
}},
{"data":{"values":[{"name":"© IT-Finance.com"}]},
"mark":{"type":"text","align":"left","baseline":"middle","fontSize":9,"font":"Noto Sans","color":"#e0e0e0"},
"encoding":{
"x":{"datum":{"year":2021,"month":8,"date":24,"hours":9,"minutes":26,"seconds":34},"type":"temporal","scale":{"domain":[{"year":2021,"month":8,"date":24,"hours":9,"minutes":25,"seconds":41},{"year":2021,"month":8,"date":24,"hours":14,"minutes":36,"seconds":35}],"padding":0},"axis":null},
"y":{"datum":1800.431,"type":"quantitative","scale":{"domain":[1800.35,1810.51],"nice":false,"zero":false,"padding":0},"axis":{"orient":"right","values":[1801,1802,1803,1804,1805,1806,1807,1808,1809,1810,1808.4],"format":",.0f","labelExpr":"datum.value % 1 === 0 ? datum.label : ''","labelFontWeight":{"condition":{"test":"datum.value % 5 === 0","value":"bold"},"value":"normal"},"title":null,"domain":false,"grid":false,"tickSize":5,"tickColor":"#8a8a92","labelPadding":3,"labelFontSize":17,"labelFont":"Noto Sans","labelColor":"#e6e6e6","labelOverlap":false,"labelBound":false,"labelFlush":false}},
"text":{"field":"name"}
}}
]
},
{
"width":1368,"height":80,
"view":{"fill":"#32323d","stroke":"#7a7a82","strokeWidth":1},
"layer":[
{"data":{"values":[{"name":"#dev"}]},
"mark":{"type":"rect","fill":"#4a4a55","stroke":"#7a7a82","strokeWidth":1},
"encoding":{
"x":{"datum":{"year":2021,"month":8,"date":24,"hours":9,"minutes":26,"seconds":8},"type":"temporal","scale":{"domain":[{"year":2021,"month":8,"date":24,"hours":9,"minutes":25,"seconds":41},{"year":2021,"month":8,"date":24,"hours":14,"minutes":36,"seconds":35}],"padding":0},"axis":{"orient":"bottom","values":[{"year":2021,"month":8,"date":24,"hours":10},{"year":2021,"month":8,"date":24,"hours":11},{"year":2021,"month":8,"date":24,"hours":12},{"year":2021,"month":8,"date":24,"hours":13},{"year":2021,"month":8,"date":24,"hours":14}],"format":"%H:%M","title":null,"domain":false,"grid":false,"tickSize":5,"tickColor":"#8a8a92","labelPadding":1,"labelFontSize":17,"labelFont":"Noto Sans","labelColor":"#dcdcdc","labelFlush":false,"minExtent":34,"maxExtent":34}},
"x2":{"datum":{"year":2021,"month":8,"date":24,"hours":9,"minutes":41,"seconds":22}},
"y":{"datum":2.205,"type":"quantitative","scale":{"domain":[-0.857,2.244],"nice":false,"zero":false,"padding":0},"axis":{"orient":"right","values":[2,1,0],"labelExpr":"datum.value === 2 ? '2' : ''","title":null,"domain":false,"grid":false,"tickSize":5,"tickColor":"#8a8a92","labelPadding":3,"labelFontSize":17,"labelFont":"Noto Sans","labelColor":"#e6e6e6","labelBound":false,"labelFlush":false}},
"y2":{"datum":1.236}
}},
{"data":{"values":[{"name":"#dev"}]},
"mark":{"type":"rect","fill":"#c8c8c8"},
"encoding":{
"x":{"datum":{"year":2021,"month":8,"date":24,"hours":9,"minutes":26,"seconds":49},"type":"temporal","scale":{"domain":[{"year":2021,"month":8,"date":24,"hours":9,"minutes":25,"seconds":41},{"year":2021,"month":8,"date":24,"hours":14,"minutes":36,"seconds":35}],"padding":0},"axis":{"orient":"bottom","values":[{"year":2021,"month":8,"date":24,"hours":10},{"year":2021,"month":8,"date":24,"hours":11},{"year":2021,"month":8,"date":24,"hours":12},{"year":2021,"month":8,"date":24,"hours":13},{"year":2021,"month":8,"date":24,"hours":14}],"format":"%H:%M","title":null,"domain":false,"grid":false,"tickSize":5,"tickColor":"#8a8a92","labelPadding":1,"labelFontSize":17,"labelFont":"Noto Sans","labelColor":"#dcdcdc","labelFlush":false,"minExtent":34,"maxExtent":34}},
"x2":{"datum":{"year":2021,"month":8,"date":24,"hours":9,"minutes":30,"seconds":41}},
"y":{"datum":2.089,"type":"quantitative","scale":{"domain":[-0.857,2.244],"nice":false,"zero":false,"padding":0},"axis":{"orient":"right","values":[2,1,0],"labelExpr":"datum.value === 2 ? '2' : ''","title":null,"domain":false,"grid":false,"tickSize":5,"tickColor":"#8a8a92","labelPadding":3,"labelFontSize":17,"labelFont":"Noto Sans","labelColor":"#e6e6e6","labelBound":false,"labelFlush":false}},
"y2":{"datum":1.43}
}},
{"data":{"values":[{"name":"#dev"}]},
"mark":{"type":"text","align":"left","baseline":"middle","fontSize":17,"font":"Noto Sans","color":"#dedede"},
"encoding":{
"x":{"datum":{"year":2021,"month":8,"date":24,"hours":9,"minutes":31,"seconds":36},"type":"temporal","scale":{"domain":[{"year":2021,"month":8,"date":24,"hours":9,"minutes":25,"seconds":41},{"year":2021,"month":8,"date":24,"hours":14,"minutes":36,"seconds":35}],"padding":0},"axis":{"orient":"bottom","values":[{"year":2021,"month":8,"date":24,"hours":10},{"year":2021,"month":8,"date":24,"hours":11},{"year":2021,"month":8,"date":24,"hours":12},{"year":2021,"month":8,"date":24,"hours":13},{"year":2021,"month":8,"date":24,"hours":14}],"format":"%H:%M","title":null,"domain":false,"grid":false,"tickSize":5,"tickColor":"#8a8a92","labelPadding":1,"labelFontSize":17,"labelFont":"Noto Sans","labelColor":"#dcdcdc","labelFlush":false,"minExtent":34,"maxExtent":34}},
"y":{"datum":1.74,"type":"quantitative","scale":{"domain":[-0.857,2.244],"nice":false,"zero":false,"padding":0},"axis":{"orient":"right","values":[2,1,0],"labelExpr":"datum.value === 2 ? '2' : ''","title":null,"domain":false,"grid":false,"tickSize":5,"tickColor":"#8a8a92","labelPadding":3,"labelFontSize":17,"labelFont":"Noto Sans","labelColor":"#e6e6e6","labelBound":false,"labelFlush":false}},
"text":{"field":"name"}
}},
{"data":{"values":[{"lines":["M15: 63.19219","M5: 58.02007","M1: 50.4235"]}]},
"mark":{"type":"text","align":"center","baseline":"middle","fontSize":13,"lineHeight":13,"font":"DejaVu Sans","color":"#9c9ca8"},
"encoding":{
"x":{"datum":{"year":2021,"month":8,"date":24,"hours":14,"minutes":19,"seconds":32},"type":"temporal","scale":{"domain":[{"year":2021,"month":8,"date":24,"hours":9,"minutes":25,"seconds":41},{"year":2021,"month":8,"date":24,"hours":14,"minutes":36,"seconds":35}],"padding":0},"axis":{"orient":"bottom","values":[{"year":2021,"month":8,"date":24,"hours":10},{"year":2021,"month":8,"date":24,"hours":11},{"year":2021,"month":8,"date":24,"hours":12},{"year":2021,"month":8,"date":24,"hours":13},{"year":2021,"month":8,"date":24,"hours":14}],"format":"%H:%M","title":null,"domain":false,"grid":false,"tickSize":5,"tickColor":"#8a8a92","labelPadding":1,"labelFontSize":17,"labelFont":"Noto Sans","labelColor":"#dcdcdc","labelFlush":false,"minExtent":34,"maxExtent":34}},
"y":{"datum":0.965,"type":"quantitative","scale":{"domain":[-0.857,2.244],"nice":false,"zero":false,"padding":0},"axis":{"orient":"right","values":[2,1,0],"labelExpr":"datum.value === 2 ? '2' : ''","title":null,"domain":false,"grid":false,"tickSize":5,"tickColor":"#8a8a92","labelPadding":3,"labelFontSize":17,"labelFont":"Noto Sans","labelColor":"#e6e6e6","labelBound":false,"labelFlush":false}},
"text":{"field":"lines"}
}},
{"data":{"name":"devTags"},
"mark":{"type":"bar","size":27,"stroke":"#9a9aa0","strokeWidth":1,"fill":{"gradient":"linear","x1":0,"y1":0,"x2":0,"y2":1,"stops":[{"offset":0,"color":"#74747c"},{"offset":1,"color":"#4c4c54"}]}},
"encoding":{
"x":{"datum":{"year":2021,"month":8,"date":24,"hours":14,"minutes":37,"seconds":43},"type":"temporal","scale":{"domain":[{"year":2021,"month":8,"date":24,"hours":9,"minutes":25,"seconds":41},{"year":2021,"month":8,"date":24,"hours":14,"minutes":36,"seconds":35}],"padding":0},"axis":{"orient":"bottom","values":[{"year":2021,"month":8,"date":24,"hours":10},{"year":2021,"month":8,"date":24,"hours":11},{"year":2021,"month":8,"date":24,"hours":12},{"year":2021,"month":8,"date":24,"hours":13},{"year":2021,"month":8,"date":24,"hours":14}],"format":"%H:%M","title":null,"domain":false,"grid":false,"tickSize":5,"tickColor":"#8a8a92","labelPadding":1,"labelFontSize":17,"labelFont":"Noto Sans","labelColor":"#dcdcdc","labelFlush":false,"minExtent":34,"maxExtent":34}},
"x2":{"datum":{"year":2021,"month":8,"date":24,"hours":14,"minutes":52,"seconds":16}},
"y":{"field":"v","type":"quantitative","scale":{"domain":[-0.857,2.244],"nice":false,"zero":false,"padding":0},"axis":{"orient":"right","values":[2,1,0],"labelExpr":"datum.value === 2 ? '2' : ''","title":null,"domain":false,"grid":false,"tickSize":5,"tickColor":"#8a8a92","labelPadding":3,"labelFontSize":17,"labelFont":"Noto Sans","labelColor":"#e6e6e6","labelBound":false,"labelFlush":false}}
}},
{"data":{"name":"devTags"},
"mark":{"type":"text","align":"left","baseline":"middle","dx":2,"fontSize":17,"font":"Noto Sans","color":"#ececec"},
"encoding":{
"x":{"datum":{"year":2021,"month":8,"date":24,"hours":14,"minutes":37,"seconds":43},"type":"temporal","scale":{"domain":[{"year":2021,"month":8,"date":24,"hours":9,"minutes":25,"seconds":41},{"year":2021,"month":8,"date":24,"hours":14,"minutes":36,"seconds":35}],"padding":0},"axis":{"orient":"bottom","values":[{"year":2021,"month":8,"date":24,"hours":10},{"year":2021,"month":8,"date":24,"hours":11},{"year":2021,"month":8,"date":24,"hours":12},{"year":2021,"month":8,"date":24,"hours":13},{"year":2021,"month":8,"date":24,"hours":14}],"format":"%H:%M","title":null,"domain":false,"grid":false,"tickSize":5,"tickColor":"#8a8a92","labelPadding":1,"labelFontSize":17,"labelFont":"Noto Sans","labelColor":"#dcdcdc","labelFlush":false,"minExtent":34,"maxExtent":34}},
"y":{"field":"v","type":"quantitative","scale":{"domain":[-0.857,2.244],"nice":false,"zero":false,"padding":0},"axis":{"orient":"right","values":[2,1,0],"labelExpr":"datum.value === 2 ? '2' : ''","title":null,"domain":false,"grid":false,"tickSize":5,"tickColor":"#8a8a92","labelPadding":3,"labelFontSize":17,"labelFont":"Noto Sans","labelColor":"#e6e6e6","labelBound":false,"labelFlush":false}},
"text":{"field":"label"}
}}
]
}
]
}
